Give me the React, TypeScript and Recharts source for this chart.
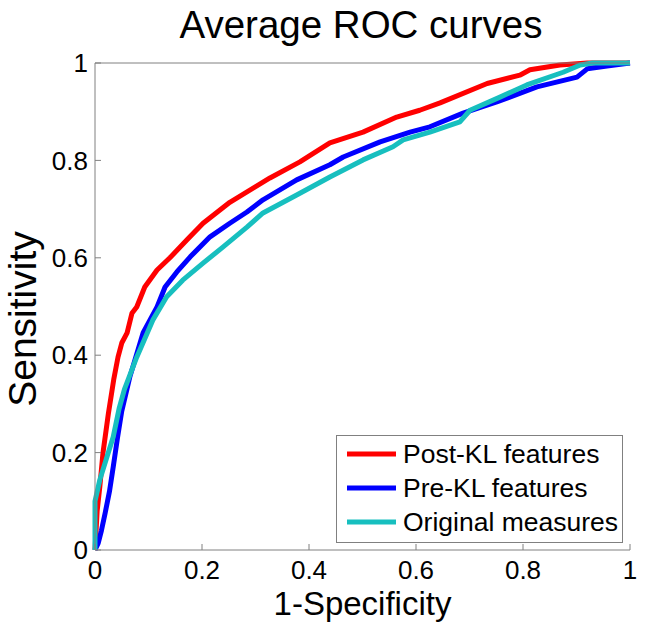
import React from 'react';
import { LineChart, Line, XAxis, YAxis, Legend } from 'recharts';

const FONT = '"Liberation Sans", Arial, Helvetica, sans-serif';

const chartTitle = 'Average ROC curves';
const xLabel = '1-Specificity';
const yLabel = 'Sensitivity';
const tickValues = [0, 0.2, 0.4, 0.6, 0.8, 1];

const seriesNames = ['Post-KL features', 'Pre-KL features', 'Original measures'];
const seriesColors = ['#ff0000', '#0000ff', '#17bfbf'];

const postKLX = [0, 0.004, 0.009, 0.015, 0.025, 0.035, 0.043, 0.05, 0.06, 0.069, 0.078, 0.093, 0.116, 0.14, 0.172, 0.202, 0.252, 0.327, 0.383, 0.439, 0.501, 0.564, 0.607, 0.645, 0.733, 0.794, 0.813, 0.869, 0.92, 1];
const postKLY = [0, 0.08, 0.13, 0.2, 0.28, 0.35, 0.396, 0.425, 0.446, 0.486, 0.499, 0.54, 0.575, 0.6, 0.637, 0.671, 0.714, 0.764, 0.797, 0.836, 0.858, 0.889, 0.903, 0.918, 0.958, 0.975, 0.986, 0.996, 1, 1];

const preKLX = [0, 0.006, 0.012, 0.019, 0.027, 0.034, 0.042, 0.05, 0.065, 0.09, 0.116, 0.131, 0.153, 0.178, 0.215, 0.252, 0.284, 0.314, 0.377, 0.439, 0.464, 0.533, 0.589, 0.626, 0.688, 0.751, 0.826, 0.901, 0.92, 0.957, 1];
const preKLY = [0, 0.014, 0.04, 0.076, 0.12, 0.17, 0.23, 0.285, 0.355, 0.446, 0.499, 0.54, 0.571, 0.602, 0.643, 0.671, 0.694, 0.719, 0.76, 0.791, 0.807, 0.838, 0.858, 0.869, 0.897, 0.92, 0.951, 0.971, 0.988, 0.994, 1];

const originalX = [0, 0, 0.009, 0.022, 0.034, 0.045, 0.055, 0.078, 0.108, 0.134, 0.164, 0.202, 0.239, 0.284, 0.314, 0.377, 0.439, 0.501, 0.557, 0.576, 0.626, 0.682, 0.701, 0.757, 0.807, 0.875, 0.907, 0.93, 1];
const originalY = [0, 0.1, 0.144, 0.19, 0.232, 0.29, 0.33, 0.396, 0.472, 0.52, 0.554, 0.589, 0.622, 0.663, 0.692, 0.729, 0.766, 0.801, 0.828, 0.842, 0.858, 0.879, 0.903, 0.93, 0.955, 0.981, 0.996, 1, 1];

const toPoints = (xs: number[], ys: number[]) => xs.map((x, i) => ({ x, y: ys[i] }));
const seriesData = [
  toPoints(postKLX, postKLY),
  toPoints(preKLX, preKLY),
  toPoints(originalX, originalY),
];

const AXIS_COLOR = '#808080';

const renderLegend = () => (
  <div style={{ width: 285, height: 106, border: `1px solid ${AXIS_COLOR}`, background: '#fff' }}>
    <svg width={285} height={106}>
      {seriesNames.map((name, i) => (
        <g key={name}>
          <line x1={10} x2={59} y1={18 + i * 34} y2={18 + i * 34} stroke={seriesColors[i]} strokeWidth={5} />
          <text x={66} y={18 + i * 34 + 9} fontSize={26.5} fontFamily={FONT} fill="#000">{name}</text>
        </g>
      ))}
    </svg>
  </div>
);

export default function App() {
  return (
    <div style={{ position: 'absolute', left: 0, top: 0, width: 645, height: 632, background: '#fff' }}>
      <LineChart width={645} height={632} margin={{ top: 62, right: 15, bottom: 0, left: 0 }}>
        <XAxis
          xAxisId="b"
          dataKey="x"
          type="number"
          domain={[0, 1]}
          ticks={tickValues}
          orientation="bottom"
          height={82}
          stroke={AXIS_COLOR}
          tickSize={-6}
          tickMargin={17}
          tick={{ fill: '#000', fontSize: 26, fontFamily: FONT }}
          interval={0}
          label={{
            content: (props: any) => {
              const vb = props.viewBox;
              return (
                <text x={vb.x + vb.width / 2} y={615} textAnchor="middle" fontSize={33} fontFamily={FONT} fill="#000">
                  {xLabel}
                </text>
              );
            },
          }}
        />
        <XAxis
          xAxisId="t"
          dataKey="x"
          type="number"
          domain={[0, 1]}
          ticks={tickValues}
          orientation="top"
          height={1}
          stroke={AXIS_COLOR}
          tickSize={-6}
          tick={false}
          interval={0}
        />
        <YAxis
          yAxisId="l"
          type="number"
          domain={[0, 1]}
          ticks={tickValues}
          orientation="left"
          width={95}
          stroke={AXIS_COLOR}
          tickSize={-6}
          tickMargin={13}
          tick={{ fill: '#000', fontSize: 26, fontFamily: FONT }}
          interval={0}
          label={{
            content: () => (
              <g>
                <text x={361} y={38} textAnchor="middle" fontSize={38.5} fontFamily={FONT} fill="#000">
                  {chartTitle}
                </text>
                <text x={36} y={319} transform="rotate(-90 36 319)" textAnchor="middle" fontSize={39} fontFamily={FONT} fill="#000">
                  {yLabel}
                </text>
              </g>
            ),
          }}
        />
        <YAxis
          yAxisId="r"
          type="number"
          domain={[0, 1]}
          ticks={tickValues}
          orientation="right"
          width={0}
          stroke={AXIS_COLOR}
          tickSize={-6}
          tick={false}
          interval={0}
        />
        {seriesData.map((d, i) => (
          <Line
            key={seriesNames[i]}
            name={seriesNames[i]}
            data={d}
            dataKey="y"
            xAxisId="b"
            yAxisId="l"
            type="linear"
            stroke={seriesColors[i]}
            strokeWidth={5}
            strokeLinejoin="round"
            dot={false}
            activeDot={false}
            isAnimationActive={false}
          />
        ))}
        <Legend
          layout="vertical"
          align="center"
          verticalAlign="middle"
          content={renderLegend}
          wrapperStyle={{ position: 'absolute', left: 336, top: 435, width: 287, height: 108 }}
        />
      </LineChart>
    </div>
  );
}
